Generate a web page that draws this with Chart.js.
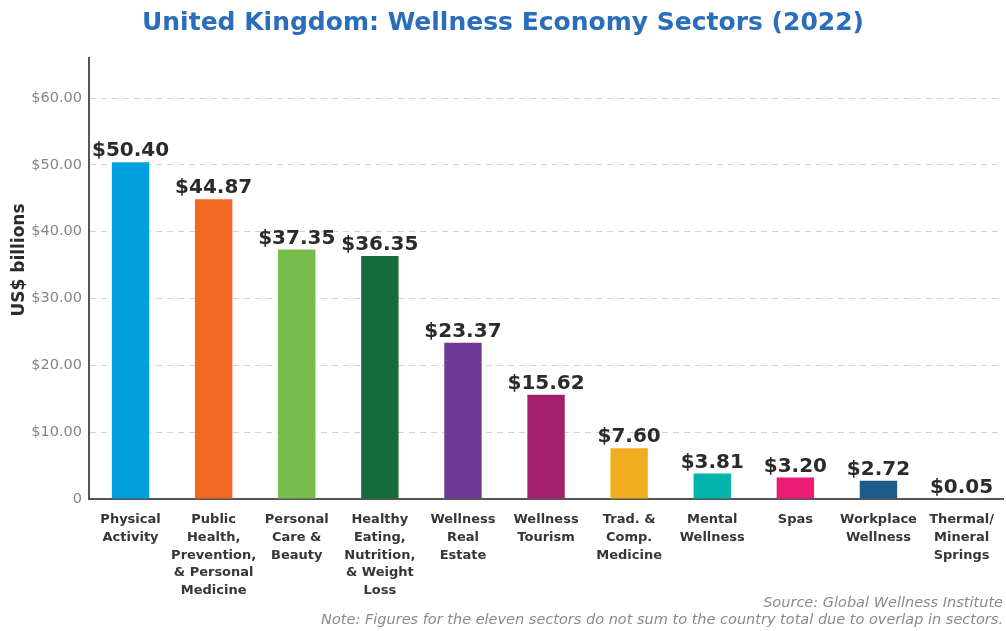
<!DOCTYPE html>
<html>
<head>
<meta charset="utf-8">
<script src="https://cdn.jsdelivr.net/npm/chart.js@4.4.1/dist/chart.umd.min.js"></script>
<style>
  html, body { margin: 0; padding: 0; background: #fff; }
  #wrap { position: relative; width: 1006px; height: 631px; }
  .note { position: absolute; right: 3px; font-family: "DejaVu Sans", sans-serif; font-style: italic; font-size: 14.5px; color: #8a8a8a; white-space: nowrap; }
</style>
</head>
<body>
<div id="wrap">
  <canvas id="chart" width="1006" height="631"></canvas>
  <div class="note" style="top:594px">Source: Global Wellness Institute</div>
  <div class="note" style="top:611px">Note: Figures for the eleven sectors do not sum to the country total due to overlap in sectors.</div>
</div>
<script>
const sectors = [
  ['Physical', 'Activity'],
  ['Public', 'Health,', 'Prevention,', '& Personal', 'Medicine'],
  ['Personal', 'Care &', 'Beauty'],
  ['Healthy', 'Eating,', 'Nutrition,', '& Weight', 'Loss'],
  ['Wellness', 'Real', 'Estate'],
  ['Wellness', 'Tourism'],
  ['Trad. &', 'Comp.', 'Medicine'],
  ['Mental', 'Wellness'],
  ['Spas'],
  ['Workplace', 'Wellness'],
  ['Thermal/', 'Mineral', 'Springs']
];
const values = [50.40, 44.87, 37.35, 36.35, 23.37, 15.62, 7.60, 3.81, 3.20, 2.72, 0.05];
const barColors = ['#009fe0', '#f26922', '#76bd4d', '#156b3a', '#6d3a96', '#a5206c', '#f0ad1f', '#00b4ac', '#ec1c74', '#1e5d8a', '#888888'];
const yTicks = [0, 10, 20, 30, 40, 50, 60];

// value labels above bars + rotated y axis title
const extras = {
  id: 'extras',
  afterDatasetsDraw(chart) {
    const ctx = chart.ctx;
    const meta = chart.getDatasetMeta(0);
    ctx.save();
    ctx.font = 'bold 20px "DejaVu Sans", sans-serif';
    ctx.fillStyle = '#2b2b2b';
    ctx.textAlign = 'center';
    ctx.textBaseline = 'bottom';
    meta.data.forEach((bar, i) => {
      ctx.fillText('$' + values[i].toFixed(2), bar.x, bar.y - 1);
    });
    ctx.translate(20, 260);
    ctx.rotate(-Math.PI / 2);
    ctx.textBaseline = 'middle';
    ctx.font = 'bold 17px "DejaVu Sans", sans-serif';
    ctx.fillText('US$ billions', 0, 0);
    ctx.restore();
  }
};

new Chart(document.getElementById('chart').getContext('2d'), {
  type: 'bar',
  data: {
    labels: sectors,
    datasets: [{
      data: values,
      backgroundColor: barColors,
      barPercentage: 0.45,
      categoryPercentage: 1
    }]
  },
  options: {
    responsive: false,
    animation: false,
    layout: { padding: { left: 0, right: 0, top: 0, bottom: 0 } },
    plugins: {
      legend: { display: false },
      tooltip: { enabled: false },
      title: {
        display: true,
        text: 'United Kingdom: Wellness Economy Sectors (2022)',
        color: '#2a6ebb',
        font: { family: '"DejaVu Sans", sans-serif', size: 25, weight: 'bold' },
        padding: { top: 8, bottom: 20 }
      }
    },
    scales: {
      x: {
        afterFit: axis => { axis.height = 132; },
        grid: { display: false, drawTicks: false },
        border: { color: '#555', width: 2 },
        ticks: {
          color: '#363636',
          font: { family: '"DejaVu Sans", sans-serif', size: 13, weight: 'bold', lineHeight: 1.36 },
          maxRotation: 0,
          autoSkip: false,
          padding: 12
        }
      },
      y: {
        min: 0,
        max: 66,
        afterBuildTicks: axis => { axis.ticks = yTicks.map(v => ({ value: v })); },
        afterFit: axis => { axis.width = 89; },
        grid: { color: '#d2d2d2', drawTicks: false, lineWidth: 1 },
        border: { color: '#555', width: 2, dash: [6, 5] },
        ticks: {
          color: '#858585',
          padding: 7,
          font: { family: '"DejaVu Sans", sans-serif', size: 14.5 },
          callback: v => v === 0 ? '0' : '$' + v.toFixed(2)
        }
      }
    }
  },
  plugins: [extras]
});
</script>
</body>
</html>
